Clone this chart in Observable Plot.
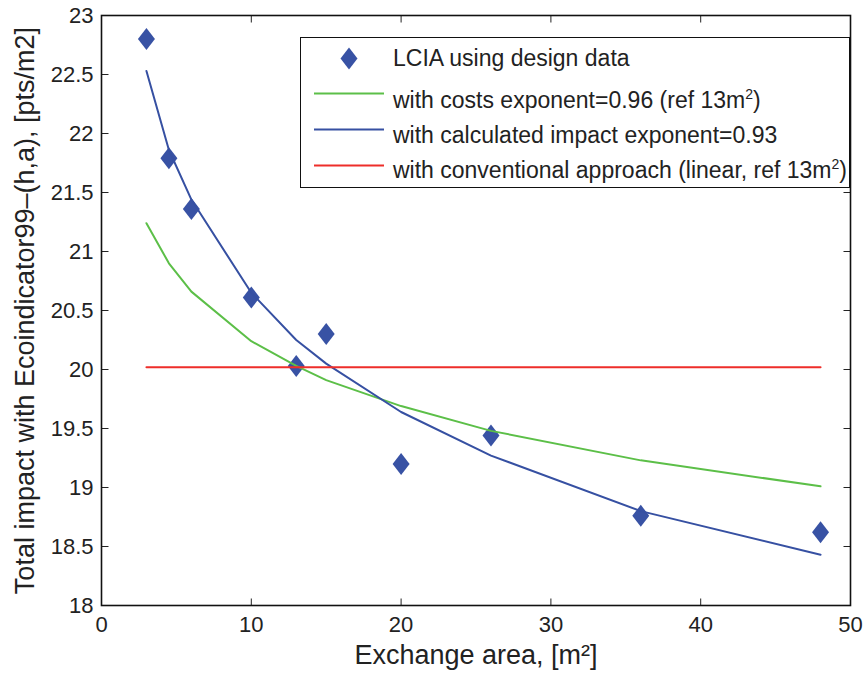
<!DOCTYPE html>
<html><head><meta charset="utf-8">
<script src="https://cdn.jsdelivr.net/npm/d3@7"></script>
<script src="https://cdn.jsdelivr.net/npm/@observablehq/plot@0.6"></script>
<style>
body{margin:0;background:#fff;font-family:"Liberation Sans",Arial,Helvetica,sans-serif;color:#222;}
#wrap{position:relative;width:866px;height:682px;}
#wrap svg{display:block;}
.lg-box{position:absolute;left:300px;top:37px;width:550px;height:151px;box-sizing:border-box;border:1.6px solid #111;background:#fff;}
.lg-item{position:absolute;}
.lg-text{position:absolute;left:393px;font-size:23px;line-height:23px;white-space:nowrap;color:#222;}
.lg-text sup{font-size:14px;vertical-align:9px;line-height:0;}
</style></head>
<body><div id="wrap"></div>
<script>
// ---- data ----
const area = [3, 4.5, 6, 10, 13, 15, 20, 26, 36, 48];
const lciaDesign = [22.80, 21.79, 21.36, 20.61, 20.03, 20.30, 19.20, 19.44, 18.76, 18.62];
const costsExponent = [21.24, 20.90, 20.66, 20.24, 20.03, 19.91, 19.69, 19.48, 19.23, 19.01];
const impactExponent = [22.53, 21.86, 21.44, 20.65, 20.25, 20.05, 19.64, 19.27, 18.80, 18.43];
const conventional = [20.02, 20.02, 20.02, 20.02, 20.02, 20.02, 20.02, 20.02, 20.02, 20.02];
const xTicks = [0, 10, 20, 30, 40, 50];
const yTicks = [18, 18.5, 19, 19.5, 20, 20.5, 21, 21.5, 22, 22.5, 23];
const xLabel = "Exchange area, [m²]";
const yLabel = "Total impact with Ecoindicator99–(h,a), [pts/m2]";
const seriesNames = ["LCIA using design data", "with costs exponent=0.96 (ref 13m", "with calculated impact exponent=0.93", "with conventional approach (linear, ref 13m"];

const colors = {diamond: "#3852a4", blue: "#3650a2", green: "#5cbf48", red: "#ee2e2a"};

const rows = (ys) => area.map((a, i) => ({x: a, y: ys[i]}));

const diamond = {draw(ctx) { ctx.moveTo(0, -11); ctx.lineTo(8.5, 0); ctx.lineTo(0, 11); ctx.lineTo(-8.5, 0); ctx.closePath(); }};
const tickUp = {draw(ctx) { ctx.moveTo(0, 0); ctx.lineTo(0, -7); }};
const tickDown = {draw(ctx) { ctx.moveTo(0, 0); ctx.lineTo(0, 7); }};
const tickRight = {draw(ctx) { ctx.moveTo(0, 0); ctx.lineTo(7, 0); }};
const tickLeft = {draw(ctx) { ctx.moveTo(0, 0); ctx.lineTo(-7, 0); }};

const xMin = xTicks[0], xMax = xTicks[xTicks.length - 1];
const yMin = yTicks[0], yMax = yTicks[yTicks.length - 1];

const chart = Plot.plot({
  width: 866,
  height: 682,
  marginLeft: 101,
  marginRight: 16,
  marginTop: 15,
  marginBottom: 77,
  style: {fontFamily: '"Liberation Sans", Arial, Helvetica, sans-serif', color: "#222", background: "#fff"},
  x: {domain: [xMin, xMax]},
  y: {domain: [yMin, yMax]},
  marks: [
    Plot.dot(rows(lciaDesign), {x: "x", y: "y", symbol: diamond, fill: colors.diamond, stroke: "none"}),
    Plot.line(rows(costsExponent), {x: "x", y: "y", stroke: colors.green, strokeWidth: 2}),
    Plot.line(rows(impactExponent), {x: "x", y: "y", stroke: colors.blue, strokeWidth: 2}),
    Plot.line(rows(conventional), {x: "x", y: "y", stroke: colors.red, strokeWidth: 2}),
    // inward ticks on all four sides
    Plot.dot(xTicks, {x: d => d, y: () => yMin, symbol: tickUp, stroke: "#222", fill: "none", strokeWidth: 1}),
    Plot.dot(xTicks, {x: d => d, y: () => yMax, symbol: tickDown, stroke: "#222", fill: "none", strokeWidth: 1}),
    Plot.dot(yTicks, {x: () => xMin, y: d => d, symbol: tickRight, stroke: "#222", fill: "none", strokeWidth: 1}),
    Plot.dot(yTicks, {x: () => xMax, y: d => d, symbol: tickLeft, stroke: "#222", fill: "none", strokeWidth: 1}),
    Plot.frame({stroke: "#111", strokeWidth: 1.6}),
    Plot.axisX(xTicks, {tickSize: 0, tickPadding: 11, fontSize: 22, label: null, tickFormat: d => `${d}`}),
    Plot.axisY(yTicks, {tickSize: 0, tickPadding: 8, fontSize: 22, label: null, tickFormat: d => `${d}`}),
    Plot.text([xLabel], {frameAnchor: "bottom", dy: 58, fontSize: 27, fill: "#222", textAnchor: "middle"}),
    Plot.text([yLabel], {frameAnchor: "left", rotate: -90, dx: -76, fontSize: 27, fill: "#222", textAnchor: "middle"})
  ]
});

const wrap = document.getElementById("wrap");
wrap.appendChild(chart);

// ---- legend (inside the axes, top right) ----
const box = document.createElement("div");
box.className = "lg-box";
wrap.appendChild(box);

function addSvg(left, top, w, h, inner) {
  const s = document.createElementNS("http://www.w3.org/2000/svg", "svg");
  s.setAttribute("width", w); s.setAttribute("height", h);
  s.setAttribute("class", "lg-item");
  s.style.left = left + "px"; s.style.top = top + "px";
  s.innerHTML = inner;
  wrap.appendChild(s);
}
addSvg(340, 47, 18, 23, `<path d="M9,0.5L17.5,11.5L9,22.5L0.5,11.5Z" fill="${colors.diamond}"/>`);
addSvg(314, 92, 70, 3, `<line x1="0" x2="70" y1="1.5" y2="1.5" stroke="${colors.green}" stroke-width="2"/>`);
addSvg(314, 127.5, 70, 3, `<line x1="0" x2="70" y1="1.5" y2="1.5" stroke="${colors.blue}" stroke-width="2"/>`);
addSvg(314, 163.5, 70, 3, `<line x1="0" x2="70" y1="1.5" y2="1.5" stroke="${colors.red}" stroke-width="2"/>`);

const texts = [
  {top: 47, html: seriesNames[0]},
  {top: 88.5, html: seriesNames[1] + "<sup>2</sup>)"},
  {top: 124, html: seriesNames[2]},
  {top: 159, html: seriesNames[3] + "<sup>2</sup>)"}
];
for (const t of texts) {
  const d = document.createElement("div");
  d.className = "lg-text";
  d.style.top = t.top + "px";
  d.innerHTML = t.html;
  wrap.appendChild(d);
}
</script>
</body></html>
